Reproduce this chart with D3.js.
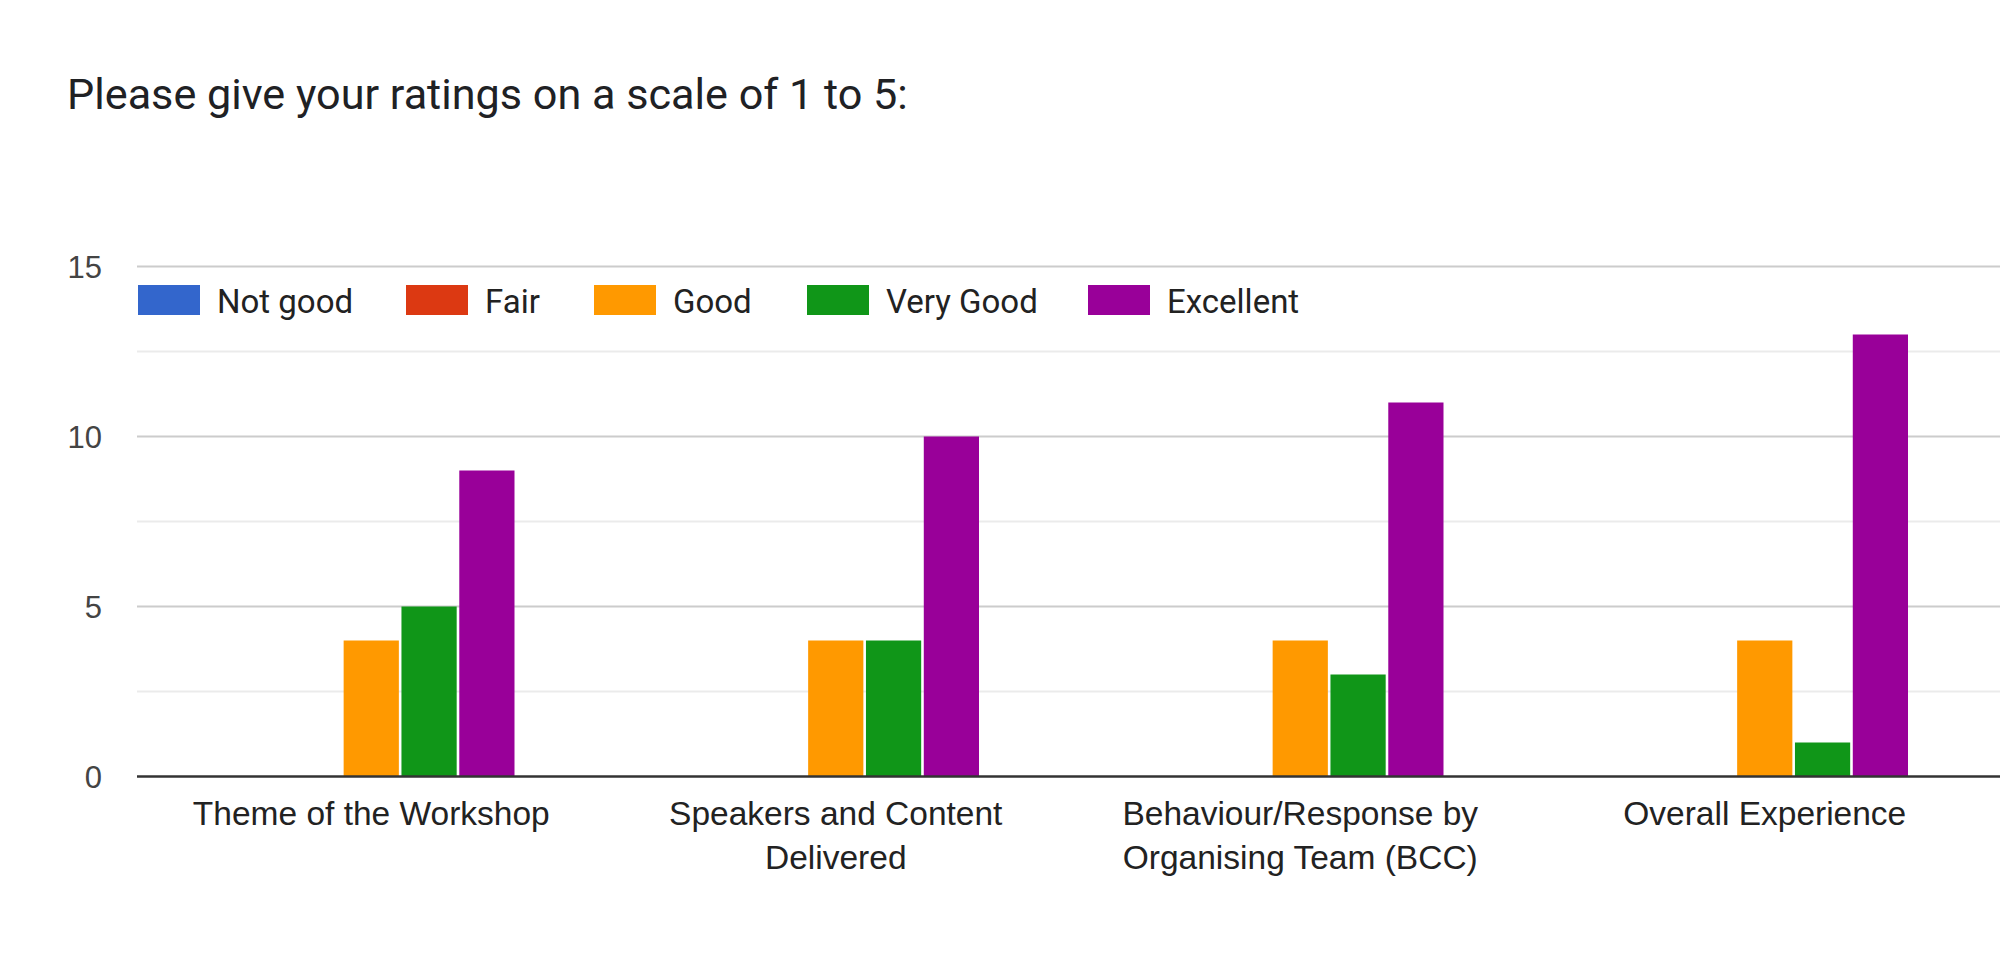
<!DOCTYPE html>
<html>
<head>
<meta charset="utf-8">
<script src="https://cdn.jsdelivr.net/npm/d3@7"></script>
<style>
  html, body { margin: 0; padding: 0; background: #fff; }
  svg { display: block; }
</style>
</head>
<body>
<svg id="chart" width="2000" height="978"></svg>
<script>
// ---- data ----
const title = "Please give your ratings on a scale of 1 to 5:";
const categories = ["Theme of the Workshop", "Speakers and Content Delivered", "Behaviour/Response by Organising Team (BCC)", "Overall Experience"];
const seriesNames = ["Not good", "Fair", "Good", "Very Good", "Excellent"];
const seriesColors = ["#3366cc", "#dc3912", "#ff9900", "#109618", "#990099"];
const notGood  = [0, 0, 0, 0];
const fair     = [0, 0, 0, 0];
const good     = [4, 4, 4, 4];
const veryGood = [5, 4, 3, 1];
const excellent = [9, 10, 11, 13];
const majorTicks = [0, 5, 10, 15];
const minorTicks = [2.5, 7.5, 12.5];

const seriesValues = [notGood, fair, good, veryGood, excellent];

// ---- layout ----
const svg = d3.select("#chart");
const plotLeft = 137, plotRight = 2000;
const y = d3.scaleLinear().domain([0, 15]).range([776.5, 266.5]);
const x0 = d3.scaleBand().domain(categories).range([139, 1997]).padding(0);
const groupW = 286.5;
const x1 = d3.scaleBand().domain(seriesNames).range([0, groupW]).paddingInner(0.045);
const groupOffset = (x0.bandwidth() - groupW) / 2;

// title
const t = svg.append("text")
  .attr("x", 67).attr("y", 109)
  .attr("font-family", "Roboto, 'Noto Sans', sans-serif")
  .attr("font-size", 40)
  .attr("fill", "#202124")
  .text(title);
const tl = t.node().getComputedTextLength();
t.attr("font-size", 40 * 841 / tl);

// gridlines
svg.append("g").selectAll("line").data(minorTicks).join("line")
  .attr("x1", plotLeft).attr("x2", plotRight)
  .attr("y1", d => y(d)).attr("y2", d => y(d))
  .attr("stroke", "#ebebeb").attr("stroke-width", 2);
svg.append("g").selectAll("line").data(majorTicks.filter(d => d !== 0)).join("line")
  .attr("x1", plotLeft).attr("x2", plotRight)
  .attr("y1", d => y(d)).attr("y2", d => y(d))
  .attr("stroke", "#cccccc").attr("stroke-width", 2);

// y axis labels
const yAxis = svg.append("g")
  .attr("transform", `translate(${plotLeft - 35},0)`)
  .call(d3.axisLeft(y).tickValues(majorTicks).tickSize(0).tickPadding(0).tickFormat(d3.format("d")));
yAxis.select(".domain").remove();
yAxis.selectAll("text")
  .attr("font-family", "'Liberation Sans', Arial, sans-serif")
  .attr("font-size", 31)
  .attr("fill", "#444")
  .attr("dy", "0.36em");

// bars
const rows = categories.map((c, i) => ({ cat: c, vals: seriesNames.map((s, j) => ({ s, v: seriesValues[j][i], color: seriesColors[j] })) }));
const groups = svg.append("g").selectAll("g").data(rows).join("g")
  .attr("transform", d => `translate(${x0(d.cat) + groupOffset},0)`);
groups.selectAll("rect").data(d => d.vals.filter(e => e.v > 0)).join("rect")
  .attr("x", d => x1(d.s))
  .attr("width", x1.bandwidth())
  .attr("y", d => y(d.v))
  .attr("height", d => y(0) - y(d.v))
  .attr("fill", d => d.color);

// baseline
svg.append("line")
  .attr("x1", plotLeft).attr("x2", plotRight)
  .attr("y1", y(0)).attr("y2", y(0))
  .attr("stroke", "#333").attr("stroke-width", 2.5);

// x axis labels
const xAxis = svg.append("g")
  .attr("transform", `translate(0,${y(0)})`)
  .call(d3.axisBottom(x0).tickSize(0));
xAxis.select(".domain").remove();
const maxW = 430;
xAxis.selectAll("text")
  .attr("font-family", "'Liberation Sans', Arial, sans-serif")
  .attr("font-size", 33.5)
  .attr("fill", "#222")
  .attr("dy", null)
  .attr("y", 0)
  .each(function(d) {
    const el = d3.select(this);
    const words = d.split(" ");
    el.text(null);
    let lines = [], cur = [];
    const probe = el.append("tspan");
    words.forEach(w => {
      const test = cur.concat([w]).join(" ");
      probe.text(test);
      if (probe.node().getComputedTextLength() > maxW && cur.length) {
        lines.push(cur.join(" "));
        cur = [w];
      } else cur.push(w);
    });
    lines.push(cur.join(" "));
    probe.remove();
    lines.forEach((ln, k) => {
      el.append("tspan").attr("x", 0).attr("y", 48.5 + k * 44).text(ln);
    });
  });

// legend
const legendX = [138, 406, 594, 807, 1088];
const legend = svg.append("g").selectAll("g").data(seriesNames).join("g")
  .attr("transform", (d, i) => `translate(${legendX[i]},0)`);
legend.append("rect")
  .attr("x", 0).attr("y", 285).attr("width", 62).attr("height", 30)
  .attr("fill", (d, i) => seriesColors[i]);
legend.append("text")
  .attr("x", 79).attr("y", 312.5)
  .attr("font-family", "Roboto, 'Noto Sans', sans-serif")
  .attr("font-size", 33)
  .attr("fill", "#222")
  .text(d => d);
</script>
</body>
</html>
